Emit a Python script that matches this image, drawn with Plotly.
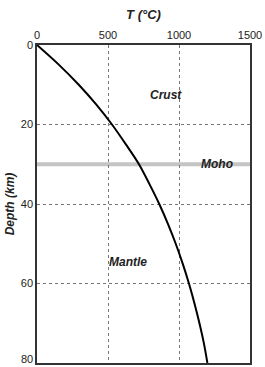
import plotly.graph_objects as go

depth_km = [0, 5, 10, 15, 20, 25, 30, 35, 40, 45, 50, 55, 60, 65, 70, 75, 80]
temp_c = [0, 155, 294, 418, 528, 626, 718, 792, 861, 922, 977, 1026, 1070, 1109, 1144, 1175, 1200]
x_ticks = [0, 500, 1000, 1500]
y_ticks = [0, 20, 40, 60, 80]
moho_depth = 30
labels = [("Crust", 910, 12.5), ("Moho", 1268, 30), ("Mantle", 643, 54.5)]

FONT = "Liberation Sans, Arial, sans-serif"

fig = go.Figure()
fig.add_trace(go.Scatter(x=temp_c, y=depth_km, mode="lines",
                         line=dict(color="black", width=2, shape="spline"),
                         showlegend=False, hoverinfo="skip"))

fig.add_shape(type="line", xref="paper", yref="y", x0=0, x1=1,
              y0=moho_depth, y1=moho_depth,
              line=dict(color="#c4c4c4", width=4), layer="below")

for text, x, y in labels:
    fig.add_annotation(x=x, y=y, text="<b><i>" + text + "</i></b>",
                       showarrow=False, font=dict(family=FONT, size=12, color="#222"))

# bottom tick label, kept just inside the page edge
fig.add_annotation(xref="paper", yref="y", x=0, y=y_ticks[-1], text=str(y_ticks[-1]),
                   xanchor="right", yanchor="bottom", xshift=-2, yshift=-4, showarrow=False,
                   font=dict(family=FONT, size=11, color="#222"))

fig.update_layout(
    width=265, height=367,
    margin=dict(l=37, r=15, t=45, b=2),
    plot_bgcolor="white", paper_bgcolor="white",
    font=dict(family=FONT, size=11, color="#222"),
    xaxis=dict(side="top", range=[0, 1500], tickvals=x_ticks,
               showgrid=True, gridcolor="#777", griddash="dot", gridwidth=1,
               showline=True, linecolor="#333", linewidth=1.5, mirror=True,
               zeroline=False, ticks="", ticklen=0,
               title=dict(text="<b><i>T (°C)</i></b>", font=dict(size=13), standoff=6)),
    yaxis=dict(range=[80, 0], tickvals=y_ticks[:-1],
               showgrid=True, gridcolor="#777", griddash="dot", gridwidth=1,
               showline=True, linecolor="#333", linewidth=1.5, mirror=True,
               zeroline=False, ticks="",
               title=dict(text="<b><i>Depth (km)</i></b>", font=dict(size=12), standoff=4)),
)

fig.write_html("out.html")
